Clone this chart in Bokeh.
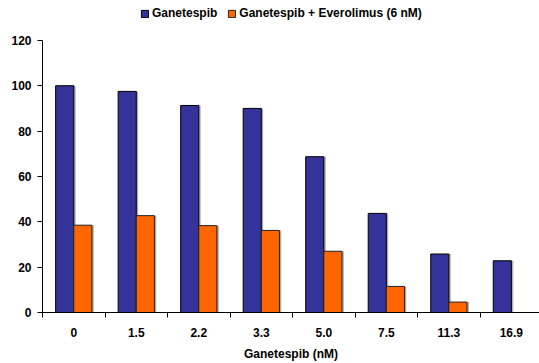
import numpy as np
from bokeh.plotting import figure
from bokeh.models import Range1d, FixedTicker, Legend, LegendItem, ColumnDataSource, LinearAxis
from bokeh.embed import file_html
from bokeh.resources import INLINE

categories = ["0", "1.5", "2.2", "3.3", "5.0", "7.5", "11.3", "16.9"]
ganetespib = [100, 97.5, 91.3, 90, 68.7, 43.7, 25.8, 22.8]
combo = [38.5, 42.7, 38.3, 36.2, 27, 11.5, 4.6, np.nan]
y_ticks = [0, 20, 40, 60, 80, 100, 120]

BLUE = "#333399"
ORANGE = "#FF6600"
FONT = "Liberation Sans"
bw = 0.29

centers = np.arange(len(categories)) + 0.5
src = ColumnDataSource(dict(
    xb=centers - bw / 2, xo=centers + bw / 2,
    xbs=centers - bw / 2 + 0.03, xos=centers + bw / 2 + 0.03,
    g=ganetespib, c=combo,
))

ytop = 120 * 313 / 273
p = figure(width=539, height=363, output_backend="svg", toolbar_location=None,
           x_range=Range1d(0, 7.95), y_range=Range1d(0, ytop),
           min_border_left=42, min_border_right=0, min_border_top=0,
           min_border_bottom=50, x_axis_location=None)
p.outline_line_color = None
p.xgrid.grid_line_color = None
p.ygrid.grid_line_color = None
p.background_fill_color = "white"
p.border_fill_color = "white"

# shadows
p.vbar(x="xbs", top="g", width=bw, source=src, fill_color="#999999",
       line_color=None, fill_alpha=0.8)
p.vbar(x="xos", top="c", width=bw, source=src, fill_color="#999999",
       line_color=None, fill_alpha=0.8)
rb = p.vbar(x="xb", top="g", width=bw, source=src, fill_color=BLUE,
            line_color="black", line_width=1)
ro = p.vbar(x="xo", top="c", width=bw, source=src, fill_color=ORANGE,
            line_color="#222222", line_width=1)

# axis with boundary ticks (no labels)
xa = LinearAxis(ticker=FixedTicker(ticks=list(range(len(categories) + 1))))
xa.major_label_overrides = {i: "" for i in range(len(categories) + 1)}
xa.major_label_text_font_size = "0px"
xa.major_label_standoff = 0
xa.major_tick_out = 5
xa.major_tick_in = 0
xa.major_tick_line_color = "black"
xa.minor_tick_line_color = None
xa.axis_line_color = "black"
p.add_layout(xa, "below")

# axis with category labels
xl = LinearAxis(ticker=FixedTicker(ticks=list(centers)))
xl.major_label_overrides = {float(c): lab for c, lab in zip(centers, categories)}
xl.axis_line_color = None
xl.major_tick_line_color = None
xl.minor_tick_line_color = None
xl.major_tick_out = 0
xl.major_tick_in = 0
xl.major_label_standoff = 10
xl.major_label_text_font = FONT
xl.major_label_text_font_style = "bold"
xl.major_label_text_font_size = "12px"
xl.major_label_text_color = "black"
xl.axis_label = "Ganetespib (nM)"
xl.axis_label_text_font = FONT
xl.axis_label_text_font_style = "bold"
xl.axis_label_text_font_size = "12px"
xl.axis_label_text_color = "black"
xl.axis_label_standoff = 7
p.add_layout(xl, "below")

ya = p.yaxis[0]
ya.ticker = FixedTicker(ticks=y_ticks)
ya.bounds = (0, 120)
ya.minor_tick_line_color = None
ya.major_tick_out = 5
ya.major_tick_in = 0
ya.major_tick_line_color = "black"
ya.axis_line_color = "black"
ya.major_label_standoff = 6
ya.major_label_text_font = FONT
ya.major_label_text_font_style = "bold"
ya.major_label_text_font_size = "12px"
ya.major_label_text_color = "black"

legend = Legend(items=[
    LegendItem(label="Ganetespib", renderers=[rb]),
    LegendItem(label="Ganetespib + Everolimus (6 nM)", renderers=[ro]),
], orientation="horizontal", location=(98, 292),
    glyph_width=9, glyph_height=9, label_standoff=3, spacing=10,
    padding=0, margin=0, border_line_color=None, background_fill_alpha=0,
    label_text_font=FONT, label_text_font_style="bold",
    label_text_font_size="12px", label_text_color="black",
    label_height=12)
p.add_layout(legend, "center")

open("out.html", "w").write(file_html(p, INLINE))
